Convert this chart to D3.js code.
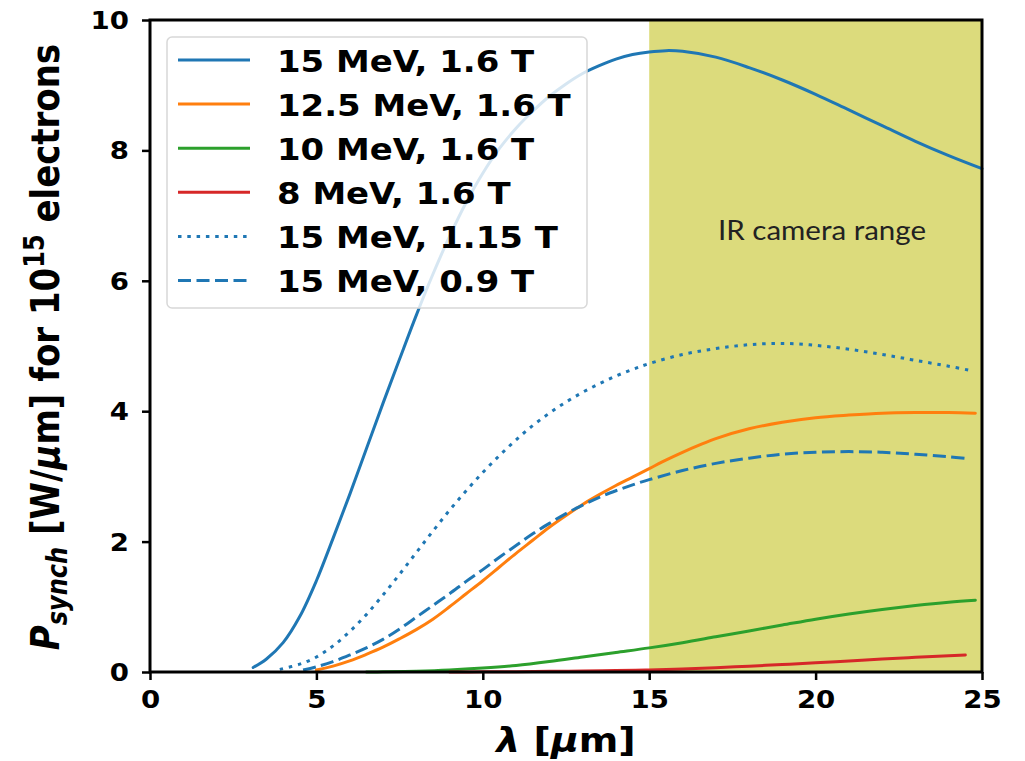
<!DOCTYPE html>
<html>
<head>
<meta charset="utf-8">
<script src="https://cdn.jsdelivr.net/npm/d3@7"></script>
<style>
  html, body { margin: 0; padding: 0; background: #fff; }
  svg { display: block; }
</style>
</head>
<body>
<svg id="chart" width="1025" height="761"></svg>
<script>
// Synchrotron power spectra per 10^15 electrons
const lambda15_16 = [3.1,3.5,4.0,4.5,5.0,5.5,6.0,6.5,7.0,7.5,8.0,8.5,9.0,9.5,10,10.5,11,11.5,12,12.5,13,13.5,14,14.5,15,15.5,16,17,18,19,20,21,22,23,24,25];
const power15_16  = [0.07,0.2,0.45,0.85,1.4,2.05,2.72,3.42,4.12,4.8,5.47,6.1,6.68,7.2,7.65,8.03,8.34,8.6,8.83,9.02,9.18,9.3,9.4,9.47,9.51,9.53,9.52,9.43,9.27,9.08,8.86,8.62,8.38,8.14,7.92,7.72];

const lambda125_16 = [5.0,5.5,6.0,6.5,7.0,7.5,8.0,8.5,9.0,9.5,10,10.5,11,11.5,12,12.5,13,13.5,14,14.5,15,15.5,16,16.5,17,18,19,20,21,22,23,24,24.8];
const power125_16  = [0.03,0.09,0.17,0.27,0.38,0.51,0.65,0.81,1.0,1.2,1.4,1.61,1.82,2.02,2.22,2.4,2.57,2.72,2.86,2.99,3.12,3.25,3.37,3.48,3.58,3.73,3.83,3.9,3.94,3.97,3.98,3.98,3.97];

const lambda10_16 = [6.5,7,8,9,10,11,12,13,14,15,16,17,18,19,20,21,22,23,24,24.8];
const power10_16  = [0.0,0.003,0.012,0.03,0.06,0.1,0.16,0.23,0.3,0.37,0.45,0.54,0.63,0.72,0.81,0.89,0.96,1.02,1.07,1.1];

const lambda8_16 = [9,10,11,12,13,14,15,16,17,18,19,20,21,22,23,24,24.5];
const power8_16  = [0.0,0.002,0.005,0.01,0.015,0.022,0.03,0.045,0.065,0.09,0.115,0.14,0.17,0.2,0.225,0.25,0.26];

const lambda15_115 = [3.9,4.5,5.0,5.5,6.0,6.5,7.0,7.5,8.0,8.5,9.0,9.5,10,10.5,11,11.5,12,12.5,13,13.5,14,14.5,15,16,17,18,19,20,21,22,23,24,24.6];
const power15_115  = [0.04,0.12,0.23,0.4,0.62,0.88,1.18,1.5,1.83,2.16,2.48,2.78,3.06,3.32,3.56,3.78,3.97,4.14,4.29,4.42,4.54,4.64,4.73,4.87,4.96,5.02,5.04,5.01,4.95,4.87,4.78,4.69,4.63];

const lambda15_09 = [4.6,5.0,5.5,6.0,6.5,7.0,7.5,8.0,8.5,9.0,9.5,10,10.5,11,11.5,12,12.5,13,13.5,14,14.5,15,16,17,18,19,20,21,22,23,24,24.6];
const power15_09  = [0.03,0.08,0.16,0.26,0.37,0.5,0.66,0.84,1.02,1.2,1.39,1.57,1.76,1.94,2.12,2.28,2.43,2.56,2.68,2.78,2.87,2.95,3.09,3.2,3.28,3.34,3.37,3.38,3.37,3.34,3.3,3.27];

const seriesLabels = ["15 MeV, 1.6 T","12.5 MeV, 1.6 T","10 MeV, 1.6 T","8 MeV, 1.6 T","15 MeV, 1.15 T","15 MeV, 0.9 T"];
const xTicks = [0,5,10,15,20,25];
const yTicks = [0,2,4,6,8,10];
const cameraRange = [15,25];
const cameraLabel = "IR camera range";

const series = [
  {label: seriesLabels[0], x: lambda15_16,  y: power15_16,  color: "#1f77b4", dash: null},
  {label: seriesLabels[1], x: lambda125_16, y: power125_16, color: "#ff7f0e", dash: null},
  {label: seriesLabels[2], x: lambda10_16,  y: power10_16,  color: "#2ca02c", dash: null},
  {label: seriesLabels[3], x: lambda8_16,   y: power8_16,   color: "#d62728", dash: null},
  {label: seriesLabels[4], x: lambda15_115, y: power15_115, color: "#1f77b4", dash: "3.5,5.8"},
  {label: seriesLabels[5], x: lambda15_09,  y: power15_09,  color: "#1f77b4", dash: "13,5.5"}
];

const svg = d3.select("#chart");
const L = 150, R = 982, T = 20, B = 672;
const SX = 1.15; // horizontal glyph stretch

const x = d3.scaleLinear().domain([0,25]).range([L,R]);
const y = d3.scaleLinear().domain([0,10]).range([B,T]);

// camera band
svg.append("rect")
  .attr("x", x(cameraRange[0])).attr("y", T)
  .attr("width", x(cameraRange[1]) - x(cameraRange[0]))
  .attr("height", B - T)
  .attr("fill", "#dcdb7c");

svg.append("text")
  .attr("x", 822).attr("y", 240)
  .attr("text-anchor", "middle")
  .attr("font-family", "Lato, 'Open Sans', sans-serif")
  .attr("font-size", 27)
  .attr("fill", "#222")
  .attr("textLength", 208)
  .attr("lengthAdjust", "spacingAndGlyphs")
  .text(cameraLabel);

// curves
const line = d3.line().curve(d3.curveCatmullRom.alpha(0.5));
series.forEach(s => {
  const pts = s.x.map((v,i) => [x(v), y(s.y[i])]);
  svg.append("path")
    .attr("d", line(pts))
    .attr("fill", "none")
    .attr("stroke", s.color)
    .attr("stroke-width", 3)
    .attr("stroke-dasharray", s.dash)
    .attr("stroke-linejoin", "round")
    .attr("stroke-linecap", s.dash ? "butt" : "round");
});

// axes
const xAxis = d3.axisBottom(x).tickValues(xTicks).tickSize(8).tickPadding(0).tickFormat(d3.format("d"));
const yAxis = d3.axisLeft(y).tickValues(yTicks).tickSize(8).tickPadding(0).tickFormat(d3.format("d"));

const gx = svg.append("g").attr("transform", `translate(0,${B})`).call(xAxis);
const gy = svg.append("g").attr("transform", `translate(${L},0)`).call(yAxis);
[gx, gy].forEach(g => {
  g.select(".domain").remove();
  g.selectAll(".tick line").attr("stroke", "#000").attr("stroke-width", 2.5);
  g.selectAll(".tick text").remove();
});
gx.selectAll(".tick").append("text")
  .attr("transform", `translate(0,36) scale(${SX},1)`)
  .attr("text-anchor", "middle")
  .attr("font-family", "'DejaVu Sans', sans-serif")
  .attr("font-weight", "bold")
  .attr("font-size", 24)
  .attr("fill", "#000")
  .text(d => d);
gy.selectAll(".tick").append("text")
  .attr("transform", `translate(-21,8.5) scale(${SX},1)`)
  .attr("text-anchor", "end")
  .attr("font-family", "'DejaVu Sans', sans-serif")
  .attr("font-weight", "bold")
  .attr("font-size", 24)
  .attr("fill", "#000")
  .text(d => d);

// frame
svg.append("rect")
  .attr("x", L).attr("y", T).attr("width", R - L).attr("height", B - T)
  .attr("fill", "none").attr("stroke", "#000").attr("stroke-width", 3);

// axis titles
const xt = svg.append("text")
  .attr("transform", `translate(${(L+R)/2},752) scale(${SX},1)`)
  .attr("text-anchor", "middle")
  .attr("font-family", "'DejaVu Sans', sans-serif")
  .attr("font-weight", "bold")
  .attr("font-size", 33)
  .attr("fill", "#000");
xt.append("tspan").attr("font-style", "italic").text("λ");
xt.append("tspan").text(" [");
xt.append("tspan").attr("font-style", "italic").text("μ");
xt.append("tspan").text("m]");

const yt = svg.append("text")
  .attr("transform", `translate(59,${(T+B)/2 + 1}) scale(${SX},1) rotate(-90)`)
  .attr("text-anchor", "middle")
  .attr("font-family", "'DejaVu Sans', sans-serif")
  .attr("font-weight", "bold")
  .attr("font-size", 34)
  .attr("fill", "#000");
yt.append("tspan").attr("font-style", "italic").text("P");
yt.append("tspan").attr("font-style", "italic").attr("font-size", 24).attr("dy", 7).text("synch");
yt.append("tspan").attr("dy", -7).text(" [W/");
yt.append("tspan").attr("font-style", "italic").text("μ");
yt.append("tspan").text("m] for 10");
yt.append("tspan").attr("font-size", 24).attr("dy", -13).text("15");
yt.append("tspan").attr("dy", 13).text(" electrons");

// legend
const lg = svg.append("g");
lg.append("rect")
  .attr("x", 167).attr("y", 37).attr("width", 420).attr("height", 271)
  .attr("rx", 5).attr("ry", 5)
  .attr("fill", "#fff").attr("fill-opacity", 0.82)
  .attr("stroke", "#d8d8d8").attr("stroke-width", 1.5);
const rowY = d3.scaleLinear().domain([0,5]).range([60,280.5]);
series.forEach((s,i) => {
  const yy = rowY(i);
  lg.append("line")
    .attr("x1", 178).attr("x2", 250).attr("y1", yy).attr("y2", yy)
    .attr("stroke", s.color).attr("stroke-width", 3)
    .attr("stroke-dasharray", s.dash);
  lg.append("text")
    .attr("transform", `translate(277,${yy+11.5}) scale(${SX},1)`)
    .attr("font-family", "'DejaVu Sans', sans-serif")
    .attr("font-weight", "bold")
    .attr("font-size", 29.5)
    .attr("fill", "#000")
    .text(s.label);
});
</script>
</body>
</html>
